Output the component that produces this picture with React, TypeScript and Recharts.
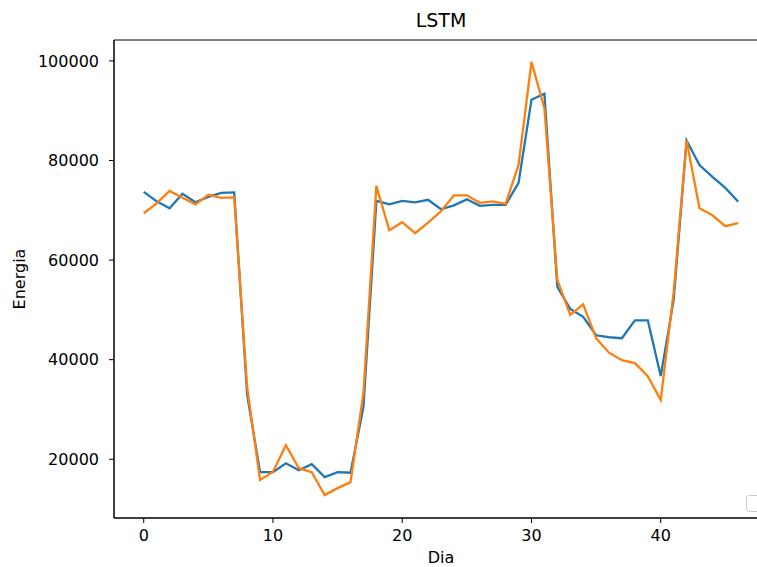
import React from 'react';
import { LineChart, Line, XAxis, YAxis, ReferenceArea } from 'recharts';

// day index on the x axis
const days = Array.from({ length: 47 }, (_, i) => i);

// blue series
const realValues = [
  73700, 71800, 70400, 73300, 71600, 72700, 73500, 73600, 33000, 17400,
  17400, 19200, 17800, 19000, 16400, 17400, 17300, 30500, 71900, 71200,
  71900, 71600, 72100, 70200, 71000, 72200, 70900, 71100, 71100, 75500,
  92200, 93400, 54600, 50200, 48600, 44900, 44500, 44300, 47900, 47900,
  36700, 52000, 84000, 79100, 76700, 74500, 71700,
];

// orange series
const predValues = [
  69400, 71400, 73900, 72500, 71200, 73100, 72500, 72600, 34500, 15800,
  17500, 22800, 18200, 17400, 12800, 14200, 15400, 33300, 74900, 66000,
  67600, 65400, 67500, 69800, 73000, 73000, 71500, 71800, 71300, 79100,
  99800, 90500, 56000, 49000, 51100, 44300, 41400, 39900, 39300, 36700,
  31900, 53500, 84000, 70400, 69000, 66800, 67400,
];

const xTicks = [0, 10, 20, 30, 40];
const yTicks = [20000, 40000, 60000, 80000, 100000];
const xDomain: [number, number] = [-2.3, 48.3];
const yDomain: [number, number] = [8200, 104200];

const chartData = days.map((d, i) => ({ day: d, real: realValues[i], pred: predValues[i] }));

const FONT = '"DejaVu Sans", sans-serif';
const tickStyle = { fill: '#000', fontSize: 16, fontFamily: FONT };

export default function App() {
  return (
    <div style={{ position: 'absolute', left: 0, top: 0, width: 757, height: 567, overflow: 'hidden', background: '#fff', fontFamily: FONT }}>
      <LineChart
        width={780}
        height={567}
        data={chartData}
        margin={{ top: 40, right: 12, bottom: 0, left: 0 }}
      >
        <XAxis
          dataKey="day"
          type="number"
          domain={xDomain}
          ticks={xTicks}
          allowDataOverflow
          height={49}
          tickSize={5}
          tickMargin={7}
          tick={tickStyle}
          stroke="#000"
        />
        <YAxis
          type="number"
          domain={yDomain}
          ticks={yTicks}
          allowDataOverflow
          width={114}
          tickSize={5}
          tickMargin={10}
          tick={tickStyle}
          stroke="#000"
        />
        <ReferenceArea
          x1={xDomain[0]}
          x2={xDomain[1]}
          y1={yDomain[0]}
          y2={yDomain[1]}
          fill="none"
          stroke="#000"
          strokeWidth={1}
        />
        <Line
          type="linear"
          dataKey="real"
          stroke="#1f77b4"
          strokeWidth={2.3}
          dot={false}
          isAnimationActive={false}
        />
        <Line
          type="linear"
          dataKey="pred"
          stroke="#ff7f0e"
          strokeWidth={2.3}
          dot={false}
          isAnimationActive={false}
        />
      </LineChart>

      {/* title and axis labels */}
      <div style={{ position: 'absolute', left: 341, width: 200, top: 8, textAlign: 'center', fontSize: 19, lineHeight: '24px', color: '#000' }}>
        LSTM
      </div>
      <div style={{ position: 'absolute', left: 391, width: 100, top: 550, textAlign: 'center', fontSize: 16, lineHeight: '16px', color: '#000' }}>
        Dia
      </div>
      <div
        style={{
          position: 'absolute',
          left: 20,
          top: 279,
          transform: 'translate(-50%, -50%) rotate(-90deg)',
          fontSize: 16,
          lineHeight: '20px',
          color: '#000',
          whiteSpace: 'nowrap',
        }}
      >
        Energia
      </div>

      {/* empty legend box, clipped at the right edge */}
      <div style={{ position: 'absolute', left: 746, top: 495, width: 24, height: 15, border: '1px solid #ccc', borderRadius: 3, background: '#fff' }} />
    </div>
  );
}
